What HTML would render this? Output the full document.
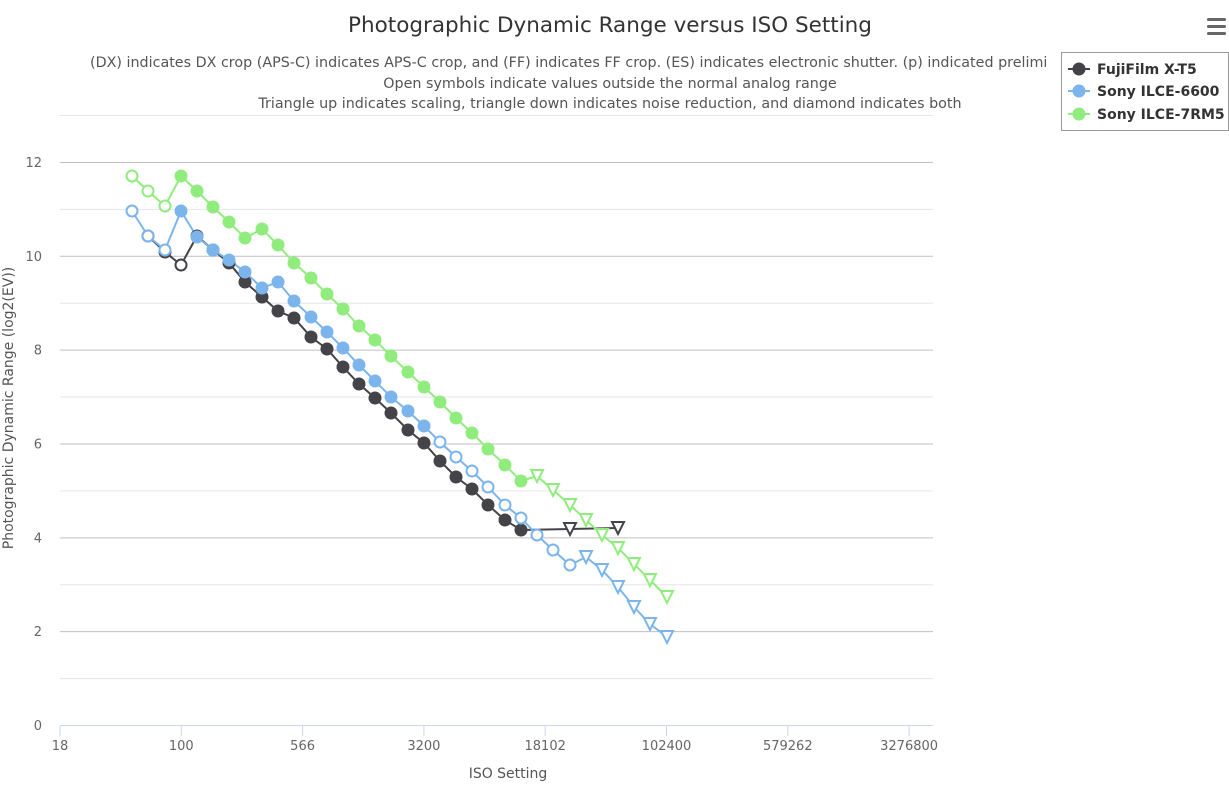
<!DOCTYPE html>
<html><head><meta charset="utf-8"><style>
body{margin:0;background:#fff;font-family:"Liberation Sans","DejaVu Sans",sans-serif}
svg text{font-family:"DejaVu Sans","Liberation Sans",sans-serif}
</style></head><body>
<svg id="s" width="1229" height="785" xmlns="http://www.w3.org/2000/svg">
<rect width="1229" height="785" fill="#fff"/>
<text x="610" y="32" text-anchor="middle" font-size="21.5" fill="#333">Photographic Dynamic Range versus ISO Setting</text>
<text x="90" y="67" font-size="14.3" fill="#555">(DX) indicates DX crop (APS-C) indicates APS-C crop, and (FF) indicates FF crop. (ES) indicates electronic shutter. (p) indicated prelimi</text>
<text x="610" y="88" text-anchor="middle" font-size="14.3" fill="#555">Open symbols indicate values outside the normal analog range</text>
<text x="610" y="108" text-anchor="middle" font-size="14.3" fill="#555">Triangle up indicates scaling, triangle down indicates noise reduction, and diamond indicates both</text>
<g fill="#666"><rect x="1207" y="18" width="19" height="3" rx="1.5"/><rect x="1207" y="25" width="19" height="3" rx="1.5"/><rect x="1207" y="32" width="19" height="3" rx="1.5"/></g>
<g id="grid"></g>
<line x1="60" y1="725.5" x2="933" y2="725.5" stroke="#ccd6eb"/>
<g id="xt" font-size="13" fill="#666" text-anchor="middle"></g>
<g id="yt" font-size="13" fill="#666" text-anchor="end"></g>
<text x="508" y="778" text-anchor="middle" font-size="14" fill="#555">ISO Setting</text>
<text transform="translate(13,408) rotate(-90)" text-anchor="middle" font-size="14" fill="#555">Photographic Dynamic Range (log2(EV))</text>
<g id="series"></g>
<rect x="1061.5" y="52.5" width="167" height="78" fill="#fff" stroke="#999"/>
<g font-size="14" font-weight="bold" fill="#333">
<line x1="1068" y1="69" x2="1090" y2="69" stroke="#434348" stroke-width="2"/><circle cx="1079" cy="69" r="6.5" fill="#434348"/><text x="1097" y="74">FujiFilm X-T5</text>
<line x1="1068" y1="91" x2="1090" y2="91" stroke="#7cb5ec" stroke-width="2"/><circle cx="1079" cy="91" r="6.5" fill="#7cb5ec"/><text x="1097" y="96">Sony ILCE-6600</text>
<line x1="1068" y1="114" x2="1090" y2="114" stroke="#90ed7d" stroke-width="2"/><circle cx="1079" cy="114" r="6.5" fill="#90ed7d"/><text x="1097" y="119">Sony ILCE-7RM5</text>
</g>
</svg>
<script>
var NS="http://www.w3.org/2000/svg";
function el(p,t,a,txt){var e=document.createElementNS(NS,t);for(var k in a)e.setAttribute(k,a[k]);if(txt!==undefined)e.textContent=txt;document.getElementById(p).appendChild(e);return e;}
for(var v=0;v<=13;v++){var y=725-46.92*v;if(v==0)continue;el("grid","line",{x1:60,x2:933,y1:y+0.5,y2:y+0.5,stroke:v%2?"#e6e6e6":"#c0c0c0","stroke-width":1});}
for(var v=0;v<=12;v+=2){el("yt","text",{x:42,y:725-46.92*v+5},String(v));}
var xl=["18","100","566","3200","18102","102400","579262","3276800"];
for(var i=0;i<8;i++){var x=60+121.3*i;el("xt","text",{x:x,y:750},xl[i]);el("xt","line",{x1:x,x2:x,y1:726,y2:736,stroke:"#ccd6eb"});}
var S=[
{c:"#434348",p:[[148,236,0],[165,252,0],[181,265,0],[197,236,1],[213,250,1],[229,263,1],[245,282,1],[262,297,1],[278,311,1],[294,318,1],[311,337,1],[327,349,1],[343,367,1],[359,384,1],[375,398,1],[391,413,1],[408,430,1],[424,443,1],[440,461,1],[456,477,1],[472,489,1],[488,505,1],[505,520,1],[521,530,1],[570,529,2],[618,528,2]]},
{c:"#7cb5ec",p:[[132,211,0],[148,236,0],[165,250,0],[181,211,1],[197,237,1],[213,250,1],[229,260,1],[245,272,1],[262,288,1],[278,282,1],[294,301,1],[311,317,1],[327,332,1],[343,348,1],[359,365,1],[375,381,1],[391,397,1],[408,411,1],[424,426,1],[440,442,0],[456,457,0],[472,471,0],[488,487,0],[505,505,0],[521,518,0],[537,535,0],[553,550,0],[570,565,0],[586,557,2],[602,570,2],[618,587,2],[634,607,2],[650,624,2],[667,637,2]]},
{c:"#90ed7d",p:[[132,176,0],[148,191,0],[165,206,0],[181,176,1],[197,191,1],[213,207,1],[229,222,1],[245,238,1],[262,229,1],[278,245,1],[294,263,1],[311,278,1],[327,294,1],[343,309,1],[359,326,1],[375,340,1],[391,356,1],[408,372,1],[424,387,1],[440,402,1],[456,418,1],[472,433,1],[488,449,1],[505,465,1],[521,481,1],[537,476,2],[553,490,2],[570,505,2],[586,520,2],[602,535,2],[618,548,2],[634,564,2],[650,580,2],[667,597,2]]}];
S.forEach(function(s){
 el("series","polyline",{points:s.p.map(function(q){return q[0]+","+q[1]}).join(" "),fill:"none",stroke:s.c,"stroke-width":2});
});
S.forEach(function(s){
 s.p.forEach(function(q){
  if(q[2]==1)el("series","circle",{cx:q[0],cy:q[1],r:6.5,fill:s.c});
  else if(q[2]==0)el("series","circle",{cx:q[0],cy:q[1],r:5.5,fill:"#fff",stroke:s.c,"stroke-width":2});
  else el("series","polygon",{points:(q[0]-6)+","+(q[1]-6)+" "+(q[0]+6)+","+(q[1]-6)+" "+q[0]+","+(q[1]+6),fill:"#fff",stroke:s.c,"stroke-width":2});
 });
});
</script>
</body></html>
